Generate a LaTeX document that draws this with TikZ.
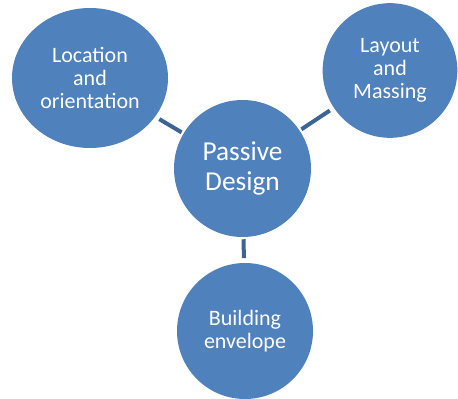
\documentclass[tikz,border=0pt]{standalone}
\usepackage{fontspec}
\setmainfont{Carlito}
\usetikzlibrary{shapes.geometric}
\definecolor{bubble}{HTML}{4F81BD}
\definecolor{linkblue}{HTML}{3C6494}
\begin{document}
\begin{tikzpicture}[x=0.75pt,y=-0.75pt,
	bub/.style={circle,fill=bubble,text=white,align=center,inner sep=0pt,font=\fontsize{16.5}{17.25}\selectfont},
	lnk/.style={draw=linkblue,line width=3pt,shorten <=1.5pt,shorten >=3.5pt}]
	\useasboundingbox (0,0) rectangle (458,399);
	\node[bub,minimum size=102.75pt,font=\fontsize{20.5}{23}\selectfont] (design) at (242.5,168.5) {Passive\\Design};
	\node[bub,ellipse,minimum width=117pt,minimum height=105pt] (loc) at (90,78) {Location\\and\\orientation};
	\node[bub,minimum size=101pt] (layout) at (390,70.5) {Layout\\and\\Massing};
	\node[bub,minimum size=102pt] (env) at (245,331) {Building\\envelope};
	% connectors
	\draw[lnk] (design) -- (loc);
	\draw[lnk] (design) -- (layout);
	\draw[lnk] (design) -- (env);
\end{tikzpicture}
\end{document}
